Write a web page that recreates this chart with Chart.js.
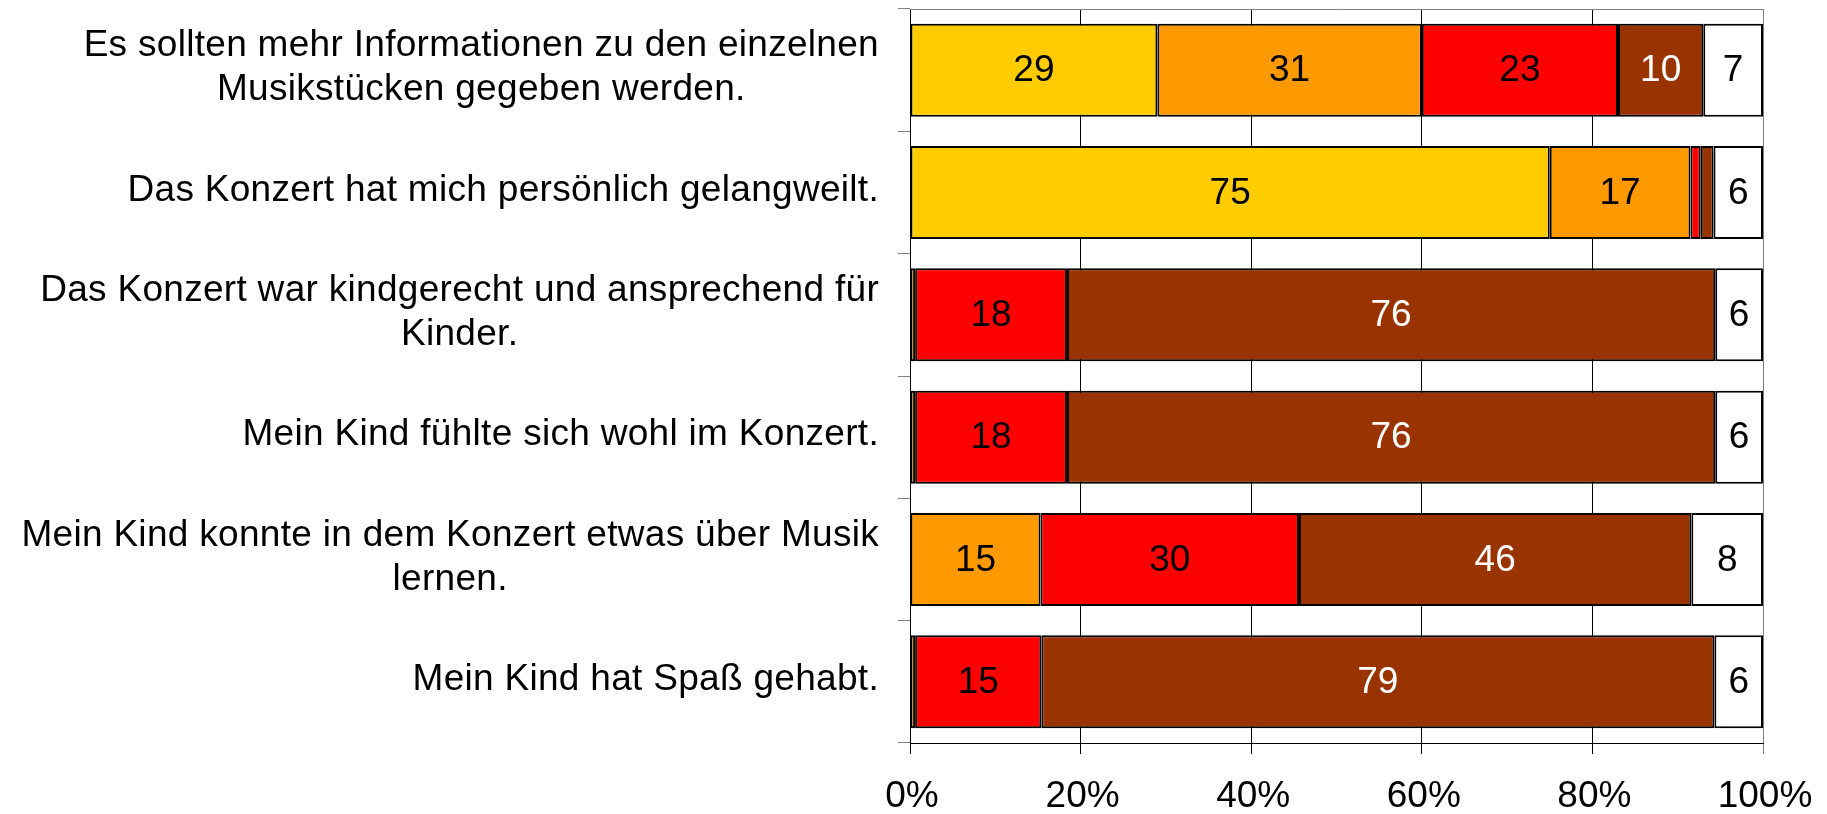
<!DOCTYPE html>
<html>
<head>
<meta charset="utf-8">
<script src="https://cdn.jsdelivr.net/npm/chart.js@4.4.1/dist/chart.umd.min.js"></script>
<style>
  html, body { margin: 0; padding: 0; background: #fff; }
  #wrap { width: 1827px; height: 814px; }
</style>
</head>
<body>
<div id="wrap"><canvas id="chart"></canvas></div>
<script>
// statements (top to bottom), multi-line ones as arrays
const categories = [
  ["Es sollten mehr Informationen zu den einzelnen", "Musikstücken gegeben werden."],
  ["Das Konzert hat mich persönlich gelangweilt."],
  ["Das Konzert war kindgerecht und ansprechend für", "Kinder."],
  ["Mein Kind fühlte sich wohl im Konzert."],
  ["Mein Kind konnte in dem Konzert etwas über Musik", "lernen."],
  ["Mein Kind hat Spaß gehabt."],
];

// percent shares per answer group
const yellowValues = [29, 75, 0, 0, 0, 0];
const orangeValues = [31, 16.5, 0.6, 0.6, 15.3, 0.6];
const redValues = [23, 1.2, 17.8, 17.8, 30.3, 14.8];
const brownValues = [10, 1.5, 76, 76, 46, 78.9];
const whiteValues = [7, 5.8, 5.6, 5.6, 8.4, 5.7];

const xTicks = [0, 20, 40, 60, 80, 100];

const FONT = "Liberation Sans, Arial, sans-serif";

const mkSet = (label, data, color, textColor) => ({
  label,
  data,
  backgroundColor: color,
  borderColor: "#000",
  borderWidth: 2,
  borderSkipped: false,
  barPercentage: 0.76,
  categoryPercentage: 1,
  textColor,
});

const datasets = [
  mkSet("yellow", yellowValues, "#FFCC00", "#000"),
  mkSet("orange", orangeValues, "#FF9900", "#000"),
  mkSet("red", redValues, "#FF0000", "#000"),
  mkSet("brown", brownValues, "#993300", "#fff"),
  mkSet("white", whiteValues, "#FFFFFF", "#000"),
];

// numbers inside the segments
const segmentLabels = {
  id: "segmentLabels",
  afterDatasetsDraw(chart) {
    const { ctx } = chart;
    ctx.save();
    ctx.font = "37px " + FONT;
    ctx.textAlign = "center";
    ctx.textBaseline = "middle";
    chart.data.datasets.forEach((ds, di) => {
      chart.getDatasetMeta(di).data.forEach((bar, i) => {
        const v = ds.data[i];
        if (v < 3) return;
        ctx.fillStyle = ds.textColor;
        ctx.fillText(Math.round(v), (bar.x + bar.base) / 2, bar.y + 1);
      });
    });
    ctx.restore();
  },
};

// category text on the left, tick text below, plot frame
const axisText = {
  id: "axisText",
  afterDraw(chart) {
    const { ctx, chartArea } = chart;
    const yScale = chart.scales.y;
    const xScale = chart.scales.x;
    ctx.save();
    // top frame line
    ctx.strokeStyle = "#808080";
    ctx.lineWidth = 1;
    ctx.beginPath();
    ctx.moveTo(chartArea.left, chartArea.top + 0.5);
    ctx.lineTo(chartArea.right, chartArea.top + 0.5);
    ctx.stroke();

    ctx.fillStyle = "#000";
    ctx.font = "37px " + FONT;
    ctx.letterSpacing = "0.3px";
    ctx.textBaseline = "middle";
    ctx.textAlign = "center";
    const rightEdge = 879;
    const lineH = 44;
    categories.forEach((lines, i) => {
      const cy = yScale.getPixelForValue(i) - 2;
      const w = Math.max(...lines.map((l) => ctx.measureText(l).width));
      const cx = rightEdge - w / 2;
      lines.forEach((l, k) => {
        ctx.fillText(l, cx, cy + (k - (lines.length - 1) / 2) * lineH);
      });
    });

    ctx.letterSpacing = "0px";
    xTicks.forEach((t) => {
      ctx.fillText(t + "%", xScale.getPixelForValue(t) + 2, 797);
    });
    ctx.restore();
  },
};

new Chart(document.getElementById("chart"), {
  type: "bar",
  data: { labels: categories.map((c) => c.join(" ")), datasets },
  options: {
    indexAxis: "y",
    responsive: true,
    maintainAspectRatio: false,
    animation: false,
    layout: { padding: { top: 9, right: 64, left: 0, bottom: 0 } },
    scales: {
      x: {
        stacked: true,
        min: 0,
        max: 100,
        ticks: { display: false, stepSize: 20 },
        grid: {
          color: (c) => (c.tick && c.tick.value === 100 ? "#808080" : "#000"),
          lineWidth: 1,
          tickLength: 11,
        },
        border: { display: true, color: "#000", width: 1 },
        afterFit: (scale) => {
          scale.height = 71;
        },
      },
      y: {
        stacked: true,
        ticks: { display: false },
        grid: {
          offset: true,
          drawOnChartArea: false,
          tickLength: 12,
          color: "#808080",
        },
        border: { display: true, color: "#000", width: 1 },
        afterFit: (scale) => {
          scale.width = 910;
        },
      },
    },
    plugins: {
      legend: { display: false },
      tooltip: { enabled: false },
    },
  },
  plugins: [segmentLabels, axisText],
});
</script>
</body>
</html>
